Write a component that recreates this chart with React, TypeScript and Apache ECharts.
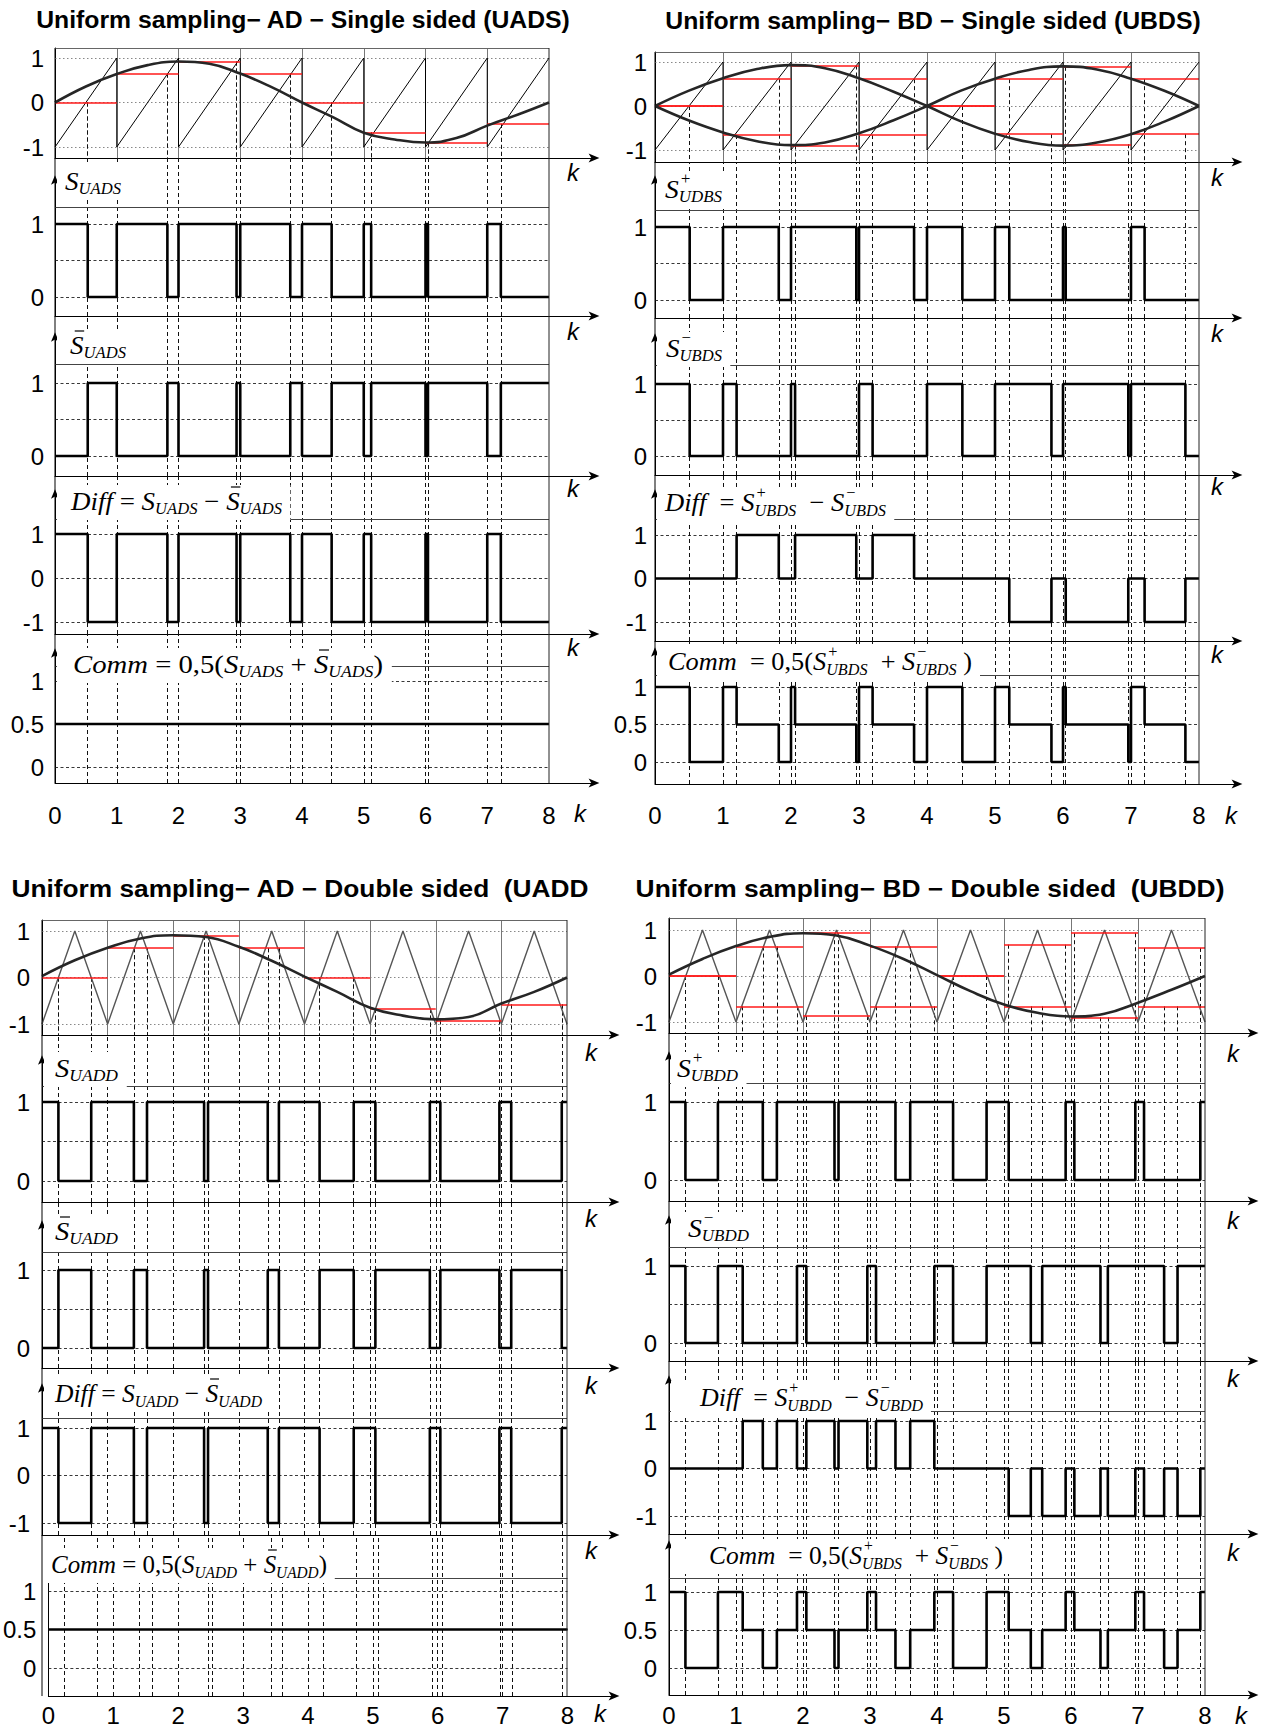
import React, { useEffect, useRef } from 'react';
import * as echarts from 'echarts';

// ---------- data ----------
const kTicks = [0, 1, 2, 3, 4, 5, 6, 7, 8];
const sampleBounds = [1, 2, 3, 4, 5, 6, 7];

const sawtoothCarrier = [[0, -1], [1, 1], [1, -1], [2, 1], [2, -1], [3, 1], [3, -1], [4, 1], [4, -1], [5, 1], [5, -1], [6, 1], [6, -1], [7, 1], [7, -1], [8, 1]];
const triangleCarrier = [[0, -1], [0.5, 1], [1, -1], [1.5, 1], [2, -1], [2.5, 1], [3, -1], [3.5, 1], [4, -1], [4.5, 1], [5, -1], [5.5, 1], [6, -1], [6.5, 1], [7, -1], [7.5, 1], [8, -1]];

// UADS
const uadsSine = [[0, 0], [0.5, 0.36], [1, 0.64], [1.5, 0.84], [2, 0.92], [2.5, 0.87], [3, 0.65], [3.5, 0.35], [4, 0], [4.5, -0.33], [5, -0.68], [5.5, -0.83], [6, -0.9], [6.5, -0.8], [7, -0.52], [7.5, -0.27], [8, 0]];
const uadsSamples = [0, 0.65, 0.92, 0.65, 0, -0.67, -0.9, -0.48];
const uadsEdges = [0.53, 1, 1.82, 2, 2.94, 3, 3.81, 4, 4.48, 5, 5.12, 6, 6.04, 7, 7.22];

// UBDS
const ubdsSinePos = [[0, 0], [0.5, 0.35], [1, 0.63], [1.5, 0.84], [2, 0.93], [2.5, 0.86], [3, 0.63], [3.5, 0.33], [4, 0], [4.5, -0.35], [5, -0.63], [5.5, -0.82], [6, -0.9], [6.5, -0.83], [7, -0.64], [7.5, -0.35], [8, 0]];
const ubdsSineNeg = [[0, 0], [0.5, -0.33], [1, -0.6], [1.5, -0.8], [2, -0.89], [2.5, -0.83], [3, -0.62], [3.5, -0.33], [4, 0], [4.5, 0.35], [5, 0.62], [5.5, 0.82], [6, 0.9], [6.5, 0.83], [7, 0.62], [7.5, 0.34], [8, 0]];
const ubdsSampleUp = [0, 0.62, 0.92, 0.61, 0, 0.61, 0.89, 0.61];
const ubdsSampleDn = [0, -0.66, -0.9, -0.66, 0, -0.64, -0.87, -0.64];
const ubdsPlusEdges = [0.51, 1, 1.82, 2, 2.96, 3, 3.81, 4, 4.52, 5, 5.21, 6, 6.04, 7, 7.2];
const ubdsMinusEdges = [0.51, 1, 1.2, 2, 2.06, 3, 3.2, 4, 4.52, 5, 5.83, 6, 6.96, 7, 7.8];

// UADD
const uaddSine = [[0, 0.03], [0.5, 0.37], [1, 0.64], [1.5, 0.84], [2, 0.91], [2.5, 0.87], [3, 0.66], [3.5, 0.36], [4, 0.02], [4.5, -0.31], [5, -0.65], [5.5, -0.82], [6, -0.9], [6.5, -0.85], [7, -0.56], [7.5, -0.31], [8, 0]];
const uaddSamples = [0, 0.63, 0.9, 0.63, 0, -0.67, -0.92, -0.58];
const uaddEdges = [0.25, 0.75, 1.4, 1.6, 2.47, 2.53, 3.44, 3.61, 4.23, 4.75, 5.08, 5.91, 6.07, 6.97, 7.15, 7.92];

// UBDD
const ubddSine = [[0, 0.03], [0.5, 0.37], [1, 0.65], [1.5, 0.85], [2, 0.93], [2.5, 0.88], [3, 0.66], [3.5, 0.37], [4, 0.02], [4.5, -0.33], [5, -0.62], [5.5, -0.8], [6, -0.88], [6.5, -0.82], [7, -0.58], [7.5, -0.3], [8, 0]];
const ubddSampleUp = [0, 0.64, 0.93, 0.64, 0, 0.68, 0.93, 0.61];
const ubddSampleDn = [0, -0.66, -0.87, -0.66, 0, -0.66, -0.9, -0.66];
const ubddPlusEdges = [0.245, 0.73, 1.4, 1.61, 2.47, 2.53, 3.38, 3.6, 4.24, 4.74, 5.07, 5.92, 6.05, 6.96, 7.09, 7.93];
const ubddMinusEdges = [0.245, 0.73, 1.1, 1.91, 2.05, 2.96, 3.09, 3.96, 4.24, 4.74, 5.4, 5.57, 6.44, 6.55, 7.39, 7.59];

const modTicks = [-1, 0, 1];
const switchTicks = [0, 1];
const diffTicks = [-1, 0, 1];
const commTicks = [0, 0.5, 1];
const switchGrid = [1, 0.5, 0];
const diffGrid = [1, 0, -1];

// ---------- styles / layout ----------
const SANS = '"Liberation Sans", Arial, sans-serif';
const SERIF = '"Liberation Serif", "Times New Roman", serif';

const I = (t: string, bar = false) => ({ t, k: 'i', bar });
const R = (t: string) => ({ t, k: 'r' });
const SB = (t: string) => ({ t, k: 'sub' });
const SP = (t: string) => ({ t, k: 'sup' });

const panels: any[] = [
  {
    title: 'Uniform sampling\u2212 AD \u2212 Single sided (UADS)', tcx: 303, tcy: 20, tw: 535,
    left: 55, x8: 549, end: 594, ym: 11, xm: 20, kdx: -21, kdxLast: -14,
    sines: [uadsSine], carrier: sawtoothCarrier, cColor: '#000', cWidth: 1,
    up: uadsSamples, dn: null,
    waveA: { init: 1, edges: uadsEdges }, waveB: { init: 0, edges: uadsEdges },
    subs: [
      { top: 48, bottom: 158, p1: 58, v1: 1, p2: 147, v2: -1, kdy: 14 },
      { top: 180, bottom: 316, p1: 224, v1: 1, p2: 297, v2: 0, border: 207, kdy: 15, label: { x: 65, y: 181, w: 56, toks: [I('S'), SB('UADS')] } },
      { top: 337, bottom: 476, p1: 383, v1: 1, p2: 456, v2: 0, border: 364, kdy: 12, label: { x: 70, y: 345, w: 56, toks: [I('S', true), SB('UADS')] } },
      { top: 494, bottom: 634, p1: 534, v1: 1, p2: 622, v2: -1, border: 519, kdy: 13, label: { x: 71, y: 501, w: 211, toks: [I('Diff'), R(' = '), I('S'), SB('UADS'), R(' \u2212 '), I('S', true), SB('UADS')] } },
      { top: 653, bottom: 783, p1: 681, v1: 1, p2: 767, v2: 0, border: 666, kdy: 30, label: { x: 73, y: 664, w: 310, toks: [I('Comm'), R(' = 0,5('), I('S'), SB('UADS'), R(' + '), I('S', true), SB('UADS'), R(')')] } },
    ],
  },
  {
    title: 'Uniform sampling\u2212 BD \u2212 Single sided (UBDS)', tcx: 933, tcy: 21, tw: 536,
    left: 655, x8: 1199, end: 1237, ym: 8, xm: 19, kdx: -20, kdxLast: -6,
    sines: [ubdsSinePos, ubdsSineNeg], carrier: sawtoothCarrier, cColor: '#000', cWidth: 1,
    up: ubdsSampleUp, dn: ubdsSampleDn,
    waveA: { init: 1, edges: ubdsPlusEdges }, waveB: { init: 1, edges: ubdsMinusEdges },
    subs: [
      { top: 52, bottom: 162, p1: 62, v1: 1, p2: 150, v2: -1, kdy: 15 },
      { top: 180, bottom: 318, p1: 227, v1: 1, p2: 300, v2: 0, border: 210, kdy: 15, label: { x: 665, y: 189, w: 57, toks: [I('S'), SP('+'), SB('UDBS')] } },
      { top: 338, bottom: 475, p1: 384, v1: 1, p2: 456, v2: 0, border: 365, kdy: 11, label: { x: 666, y: 348, w: 56, toks: [I('S'), SP('\u2212'), SB('UBDS')] } },
      { top: 494, bottom: 641, p1: 535, v1: 1, p2: 622, v2: -1, border: 519, kdy: 13, label: { x: 665, y: 503, w: 221, toks: [I('Diff'), R('  = '), I('S'), SP('+'), SB('UBDS'), R('  \u2212 '), I('S'), SP('\u2212'), SB('UBDS')] } },
      { top: 652, bottom: 784, p1: 687, v1: 1, p2: 762, v2: 0, border: 675, kdy: 31, label: { x: 668, y: 662, w: 304, toks: [I('Comm'), R('  = 0,5('), I('S'), SP('+'), SB('UBDS'), R('  + '), I('S'), SP('\u2212'), SB('UBDS'), R(' )')] } },
    ],
  },
  {
    title: 'Uniform sampling\u2212 AD \u2212 Double sided  (UADD', tcx: 300, tcy: 888, tw: 578,
    left: 42, x8: 567, end: 614, ym: 12, xm: 7, kdx: -23, kdxLast: -14,
    sines: [uaddSine], carrier: triangleCarrier, cColor: '#555', cWidth: 1.4,
    up: uaddSamples, dn: null,
    waveA: { init: 1, edges: uaddEdges }, waveB: { init: 0, edges: uaddEdges },
    subs: [
      { top: 920, bottom: 1035, p1: 931, v1: 1, p2: 1024, v2: -1, kdy: 17 },
      { top: 1060, bottom: 1202, p1: 1102, v1: 1, p2: 1181, v2: 0, border: 1086, kdy: 16, label: { x: 55, y: 1068, w: 63, toks: [I('S'), SB('UADD')] } },
      { top: 1225, bottom: 1368, p1: 1270, v1: 1, p2: 1348, v2: 0, border: 1252, kdy: 17, label: { x: 55, y: 1231, w: 63, toks: [I('S', true), SB('UADD')] } },
      { top: 1388, bottom: 1535, p1: 1428, v1: 1, p2: 1523, v2: -1, border: 1418, kdy: 15, label: { x: 55, y: 1393, w: 207, toks: [I('Diff'), R(' = '), I('S'), SB('UADD'), R(' \u2212 '), I('S', true), SB('UADD')] } },
      { top: 1558, bottom: 1696, p1: 1591, v1: 1, p2: 1668, v2: 0, border: 1578, kdy: 17, label: { x: 51, y: 1564, w: 276, toks: [I('Comm'), R(' = 0,5('), I('S'), SB('UADD'), R(' + '), I('S', true), SB('UADD'), R(')')] } },
    ],
  },
  {
    title: 'Uniform sampling\u2212 BD \u2212 Double sided  (UBDD)', tcx: 930, tcy: 888, tw: 589,
    left: 669, x8: 1205, end: 1253, ym: 12, xm: 8, kdx: -20, kdxLast: -12,
    sines: [ubddSine], carrier: triangleCarrier, cColor: '#555', cWidth: 1.4,
    up: ubddSampleUp, dn: ubddSampleDn,
    waveA: { init: 1, edges: ubddPlusEdges }, waveB: { init: 1, edges: ubddMinusEdges },
    subs: [
      { top: 918, bottom: 1033, p1: 930, v1: 1, p2: 1022, v2: -1, kdy: 20 },
      { top: 1056, bottom: 1201, p1: 1102, v1: 1, p2: 1180, v2: 0, border: 1083, kdy: 19, label: { x: 677, y: 1068, w: 61, toks: [I('S'), SP('+'), SB('UBDD')] } },
      { top: 1220, bottom: 1361, p1: 1266, v1: 1, p2: 1343, v2: 0, border: 1247, kdy: 17, label: { x: 688, y: 1228, w: 61, toks: [I('S'), SP('\u2212'), SB('UBDD')] } },
      { top: 1380, bottom: 1534, p1: 1421, v1: 1, p2: 1516, v2: -1, border: 1411, kdy: 18, label: { x: 700, y: 1397, w: 223, toks: [I('Diff'), R('  = '), I('S'), SP('+'), SB('UBDD'), R('  \u2212 '), I('S'), SP('\u2212'), SB('UBDD')] } },
      { top: 1545, bottom: 1695, p1: 1592, v1: 1, p2: 1668, v2: 0, border: 1578, kdy: 20, label: { x: 709, y: 1555, w: 294, toks: [I('Comm'), R('  = 0,5('), I('S'), SP('+'), SB('UBDS'), R('  + '), I('S'), SP('\u2212'), SB('UBDS'), R(' )')] } },
    ],
  },
];

// ---------- helpers ----------
type Wave = { init: number; edges: number[] };
const levelAt = (w: Wave, t: number) => {
  let n = 0;
  for (const e of w.edges) if (e <= t) n++;
  return n % 2 === 0 ? w.init : 1 - w.init;
};
const dedupe = (arr: number[]) => {
  const s = [...arr].sort((a, b) => a - b);
  const out: number[] = [];
  for (const v of s) if (!out.length || Math.abs(v - out[out.length - 1]) > 0.004) out.push(v);
  return out;
};
const stepData = (f: (t: number) => number, breaks: number[]) => {
  const pts: number[][] = [];
  let prev = f(0);
  pts.push([0, prev]);
  for (const b of breaks) {
    const v = f(b + 1e-6);
    if (Math.abs(v - prev) > 1e-9) {
      pts.push([b, prev], [b, v]);
      prev = v;
    }
  }
  pts.push([8, prev]);
  return pts;
};
const fmtTick = (v: number) => (Math.abs(v - 0.5) < 1e-6 ? '0.5' : String(Math.round(v)));
const ARROW = 'path://M5,0 L10,12 L5,9 L0,12 Z';

function buildOption() {
  const canvas = document.createElement('canvas');
  const ctx = canvas.getContext('2d')!;
  const measure = (font: string, text: string) => {
    ctx.font = font;
    return ctx.measureText(text).width;
  };
  const grid: any[] = [];
  const xAxis: any[] = [];
  const yAxis: any[] = [];
  const series: any[] = [];
  const elements: any[] = [];

  for (const P of panels) {
    const unitX = (P.x8 - P.left) / 8;
    const xMax = (P.end - P.left) / unitX;
    const allCuts = dedupe([...P.waveA.edges, ...P.waveB.edges, ...sampleBounds]);
    const A: Wave = P.waveA;
    const B: Wave = P.waveB;
    const breaks = dedupe([...A.edges, ...B.edges]);

    P.subs.forEach((S: any, i: number) => {
      const gi = grid.length;
      const u = (S.p2 - S.p1) / (S.v1 - S.v2);
      const yMax = S.v1 + (S.p1 - S.top) / u;
      const yMin = S.v2 - (S.bottom - S.p2) / u;
      const valAt = (px: number) => S.v1 + (S.p1 - px) / u;
      const last = i === P.subs.length - 1;
      const ticks = i === 0 ? modTicks : i === 3 ? diffTicks : i === 4 ? commTicks : switchTicks;

      grid.push({ left: P.left, top: S.top, width: P.end - P.left, height: S.bottom - S.top });
      xAxis.push({
        gridIndex: gi, type: 'value', min: 0, max: xMax,
        axisLine: { show: true, onZero: false, symbol: ['none', ARROW], symbolSize: [9, 13], lineStyle: { color: '#000', width: 1 } },
        axisTick: { show: false }, splitLine: { show: false },
        axisLabel: last
          ? { show: true, customValues: kTicks, fontSize: 24, fontFamily: SANS, color: '#000', margin: P.xm }
          : { show: false },
      });
      yAxis.push({
        gridIndex: gi, type: 'value', min: yMin, max: yMax,
        axisLine: { show: true, onZero: false, symbol: i === 0 ? 'none' : ['none', ARROW], symbolSize: [8, 11], lineStyle: { color: '#000', width: 1 } },
        axisTick: { show: false }, splitLine: { show: false },
        axisLabel: { show: true, customValues: ticks, fontSize: 24, fontFamily: SANS, color: '#000', margin: P.ym, formatter: fmtTick },
      });

      // "k" axis name
      elements.push({
        type: 'text', z: 70, x: P.end + (last ? P.kdxLast : P.kdx), y: S.bottom + S.kdy,
        style: { text: 'k', font: `italic 24px ${SANS}`, fill: '#000', align: 'center', verticalAlign: 'middle' },
      });

      const seg = (coords: number[][][], lineStyle: any, z: number) =>
        series.push({
          type: 'lines', coordinateSystem: 'cartesian2d', xAxisIndex: gi, yAxisIndex: gi,
          polyline: false, clip: false, silent: true, z,
          lineStyle: { opacity: 1, curveness: 0, ...lineStyle },
          data: coords.map((c) => ({ coords: c })),
        });
      const line = (data: number[][], lineStyle: any, z: number, smooth: any = false) =>
        series.push({
          type: 'line', xAxisIndex: gi, yAxisIndex: gi, data, symbol: 'none', showSymbol: false,
          smooth, silent: true, z, lineStyle, clip: false,
        });

      if (i === 0) {
        // modulator plot
        seg(modTicks.map((v) => [[0, v], [8, v]]), { color: '#888', width: 1, type: [1.5, 2.5] }, 1);
        seg(sampleBounds.map((k) => [[k, yMin], [k, yMax]]), { color: '#777', width: 1 }, 2);
        seg([[[0, yMax], [8, yMax]]], { color: '#666', width: 1 }, 2);
        const cuts: number[][][] = [];
        const addCuts = (w: Wave, samples: number[]) => {
          for (const t of w.edges) {
            if (Math.abs(t - Math.round(t)) < 0.02) continue;
            cuts.push([[t, samples[Math.floor(t)]], [t, yMin]]);
          }
        };
        addCuts(A, P.up);
        addCuts(B, P.dn || P.up);
        seg(cuts, { color: '#111', width: 1, type: [4, 3] }, 3);
        line(P.carrier, { color: P.cColor, width: P.cWidth }, 4);
        const reds: number[][][] = [];
        P.up.forEach((v: number, k: number) => reds.push([[k, v], [k + 1, v]]));
        if (P.dn) P.dn.forEach((v: number, k: number) => reds.push([[k, v], [k + 1, v]]));
        seg(reds, { color: '#ff1a1a', width: 1.6 }, 5);
        P.sines.forEach((s: number[][]) => line(s, { color: '#262626', width: 2.6 }, 6, 0.45));
      } else {
        const gridVals = i === 3 ? diffGrid : switchGrid;
        seg(gridVals.map((v) => [[0, v], [8, v]]), { color: '#222', width: 0.9, type: [3, 2.5] }, 1);
        const prevBottom = P.subs[i - 1].bottom;
        seg(allCuts.map((t) => [[t, yMin], [t, valAt(prevBottom)]]), { color: '#111', width: 1, type: [4, 3] }, 2);
        seg([[[0, valAt(S.border)], [8, valAt(S.border)]]], { color: '#444', width: 1 }, 2);
        let f: (t: number) => number;
        if (i === 1) f = (t) => levelAt(A, t);
        else if (i === 2) f = (t) => levelAt(B, t);
        else if (i === 3) f = (t) => levelAt(A, t) - levelAt(B, t);
        else f = (t) => 0.5 * (levelAt(A, t) + levelAt(B, t));
        line(stepData(f, breaks), { color: '#000', width: 2.6 }, 10);

        // sub-plot label (white box hides the lines behind it, as in the figure)
        const L = S.label;
        const children: any[] = [];
        let x = 0;
        for (const tok of L.toks) {
          const font = tok.k === 'i' ? `italic 26px ${SERIF}` : tok.k === 'r' ? `26px ${SERIF}` : `italic 16px ${SERIF}`;
          const w = measure(font, tok.t);
          const dy = tok.k === 'sub' ? 8 : tok.k === 'sup' ? -10 : 0;
          children.push({ type: 'text', x: tok.k === 'sup' ? x + 1 : x, y: dy, z: 61, style: { text: tok.t, font, fill: '#000', align: 'left', verticalAlign: 'middle' } });
          if (tok.bar) children.push({ type: 'line', z: 61, shape: { x1: x + w * 0.35, y1: -14, x2: x + w * 1.05, y2: -14 }, style: { stroke: '#000', lineWidth: 1.2 } });
          if (tok.k !== 'sup') x += w;
        }
        const sc = L.w / x;
        const rectLeft = (P.left + 2 - L.x) / sc;
        children.unshift({ type: 'rect', z: 60, shape: { x: rectLeft, y: -16, width: x + 8 - rectLeft, height: 35 }, style: { fill: '#fff' } });
        elements.push({ type: 'group', x: L.x, y: L.y, scaleX: sc, z: 60, children });
      }
    });

    // continuous frame verticals
    const top = P.subs[0].top;
    const bottom = P.subs[P.subs.length - 1].bottom;
    elements.push({ type: 'line', z: 50, shape: { x1: P.left, y1: top, x2: P.left, y2: bottom }, style: { stroke: '#000', lineWidth: 1 } });
    elements.push({ type: 'line', z: 50, shape: { x1: P.x8, y1: top, x2: P.x8, y2: bottom }, style: { stroke: '#222', lineWidth: 1 } });

    // title
    const tFont = `bold 24px ${SANS}`;
    const tW = measure(tFont, P.title);
    elements.push({ type: 'text', x: P.tcx, y: P.tcy, scaleX: P.tw / tW, z: 70, style: { text: P.title, font: tFont, fill: '#000', align: 'center', verticalAlign: 'middle' } });
  }

  return {
    animation: false,
    backgroundColor: '#fff',
    grid, xAxis, yAxis, series,
    graphic: { elements },
  };
}

export default function App() {
  const ref = useRef<HTMLDivElement>(null);
  useEffect(() => {
    document.body.style.margin = '0';
    const chart = echarts.init(ref.current!, undefined, { renderer: 'svg', width: 1263, height: 1731 });
    chart.setOption(buildOption() as any);
    return () => chart.dispose();
  }, []);
  return <div ref={ref} style={{ width: 1263, height: 1731, background: '#fff', overflow: 'hidden' }} />;
}
